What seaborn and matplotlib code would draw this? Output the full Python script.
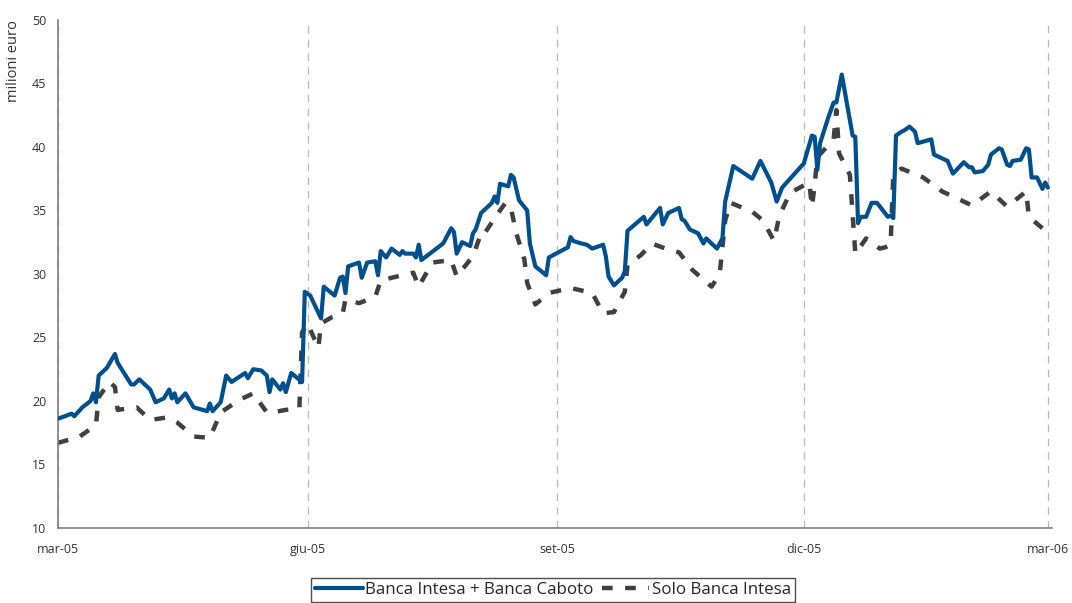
import pandas as pd
import numpy as np
import seaborn as sns
import matplotlib.pyplot as plt
import matplotlib.dates as mdates
from matplotlib.ticker import FuncFormatter

# --- data (days since 1 Mar 2005, milioni euro) ---
start_date = '2005-03-01'

days_caboto = [0, 5, 6, 9, 12, 13, 14, 15, 18, 21, 22, 27, 28, 30, 34, 36, 39, 41, 42, 43,
               44, 47, 50, 55, 56, 57, 60, 62, 64, 69, 70, 72, 75, 77, 78, 79, 82, 83, 84, 86,
               90, 91, 93, 95, 97, 98, 102, 104, 105, 106, 107, 111, 112, 114, 117, 118, 119, 121, 123, 126,
               127, 128, 131, 132, 133, 134, 142, 145, 146, 147, 149, 152, 153, 154, 156, 159, 160, 161, 162, 163,
               166, 167, 168, 170, 173, 174, 176, 180, 181, 188, 189, 190, 193, 195, 197, 201, 202, 203, 205, 208,
               209, 210, 216, 217, 222, 223, 225, 229, 230, 231, 233, 236, 238, 239, 243, 245, 246, 249, 256, 259,
               263, 265, 267, 275, 278, 279, 280, 281, 284, 286, 287, 289, 293, 294, 295, 296, 298, 300, 302, 306,
               307, 308, 309, 311, 312, 314, 316, 317, 322, 323, 328, 330, 334, 336, 337, 338, 341, 343, 344, 347,
               348, 350, 351, 352, 355, 357, 358, 359, 361, 363, 364, 365]
vals_caboto = [18.6, 19.0, 18.8, 19.5, 20.0, 20.6, 19.9, 22.0, 22.6, 23.7, 23.0, 21.3, 21.3, 21.7, 20.9, 19.9, 20.2, 20.9, 20.2, 20.6,
               19.9, 20.6, 19.5, 19.2, 19.8, 19.2, 19.9, 22.0, 21.5, 22.2, 21.8, 22.5, 22.4, 22.0, 20.7, 21.7, 20.9, 21.4, 20.7, 22.2,
               21.5, 28.6, 28.3, 27.4, 26.5, 29.0, 28.3, 29.7, 29.8, 28.5, 30.6, 30.9, 29.7, 30.9, 31.0, 29.9, 31.8, 31.3, 32.0, 31.5,
               31.8, 31.6, 31.6, 31.3, 32.3, 31.1, 32.4, 33.6, 33.3, 31.6, 32.5, 32.2, 33.2, 33.5, 34.8, 35.4, 35.6, 36.1, 35.6, 37.1,
               36.9, 37.8, 37.6, 35.8, 35.0, 32.4, 30.6, 29.9, 31.3, 32.1, 32.9, 32.6, 32.4, 32.3, 32.0, 32.3, 31.4, 29.8, 29.1, 29.7,
               30.2, 33.4, 34.5, 33.9, 35.2, 33.9, 34.8, 35.2, 34.3, 34.2, 33.5, 33.2, 32.4, 32.8, 32.0, 32.8, 35.7, 38.5, 37.5, 38.9,
               37.2, 35.7, 36.8, 38.7, 40.9, 40.8, 38.2, 40.3, 42.3, 43.5, 43.5, 45.7, 40.9, 40.8, 34.0, 34.5, 34.5, 35.6, 35.6, 34.5,
               34.6, 34.4, 40.9, 41.2, 41.3, 41.6, 41.2, 40.3, 40.6, 39.4, 38.9, 37.9, 38.8, 38.4, 38.4, 38.0, 38.1, 38.6, 39.4, 39.9,
               39.8, 38.6, 38.5, 38.9, 39.0, 39.9, 39.8, 37.6, 37.6, 36.7, 37.2, 36.8]

days_intesa = [0, 8, 14, 15, 19, 21, 22, 29, 34, 40, 44, 50, 56, 60, 67, 72, 77, 79, 84, 89,
               90, 92, 96, 97, 101, 105, 106, 111, 117, 119, 125, 131, 133, 138, 145, 147, 153, 156, 157, 161,
               165, 167, 169, 172, 173, 176, 181, 189, 197, 201, 205, 209, 210, 215, 219, 224, 229, 234, 241, 244,
               245, 246, 248, 256, 260, 264, 266, 270, 277, 278, 279, 280, 286, 287, 288, 292, 294, 298, 303, 305,
               307, 308, 311, 319, 326, 330, 337, 344, 350, 357, 358, 363, 365]
vals_intesa = [16.7, 17.2, 18.1, 20.3, 21.5, 21.1, 19.3, 19.5, 18.5, 18.7, 18.3, 17.2, 17.1, 19.1, 20.1, 20.6, 19.1, 19.1, 19.3, 19.4,
               25.4, 26.1, 24.2, 26.1, 26.6, 26.9, 28.0, 27.7, 28.2, 29.5, 29.8, 30.1, 29.0, 30.9, 31.1, 29.8, 31.4, 33.2, 33.1, 34.4,
               35.6, 35.2, 33.2, 31.1, 29.3, 27.6, 28.5, 28.9, 28.5, 26.9, 27.0, 28.6, 30.7, 31.5, 32.4, 32.0, 31.7, 30.3, 29.0, 30.0,
               32.1, 34.2, 35.6, 34.9, 34.2, 32.6, 34.6, 36.4, 37.2, 35.3, 37.0, 39.2, 40.6, 42.9, 39.5, 37.8, 31.6, 32.8, 32.0, 32.1,
               32.3, 37.8, 38.3, 37.6, 36.5, 36.1, 35.4, 36.5, 35.3, 36.5, 34.5, 33.6, 33.3]

label_caboto = 'Banca Intesa + Banca Caboto'
label_intesa = 'Solo Banca Intesa'
month_names = {3: 'mar', 6: 'giu', 9: 'set', 12: 'dic'}

t0 = pd.Timestamp(start_date)
df_caboto = pd.DataFrame({'data': t0 + pd.to_timedelta(days_caboto, unit='D'), 'valore': vals_caboto})
df_intesa = pd.DataFrame({'data': t0 + pd.to_timedelta(days_intesa, unit='D'), 'valore': vals_intesa})

# --- plot ---
sns.set_style("white")
plt.rcParams['font.family'] = ['Open Sans', 'DejaVu Sans']

fig = plt.figure(figsize=(10.72, 6.03), dpi=100)
ax = fig.add_axes([0.0541, 0.1244, 0.9272, 0.8425])

sns.lineplot(data=df_intesa, x='data', y='valore', ax=ax, color='#404040', linewidth=3.2,
             linestyle=(0, (2.4, 2.8)), estimator=None, label=label_intesa, zorder=2)
sns.lineplot(data=df_caboto, x='data', y='valore', ax=ax, color='#004f8f', linewidth=3.0,
             estimator=None, label=label_caboto, zorder=3)

# a little room past mar-06 so its gridline is not clipped
ax.set_xlim(pd.Timestamp('2005-03-01'), pd.Timestamp('2006-03-02 12:00'))
ax.set_ylim(10, 50)
ax.set_yticks(np.arange(10, 51, 5))
ax.xaxis.set_major_locator(mdates.MonthLocator(bymonth=[3, 6, 9, 12]))
ax.xaxis.set_major_formatter(FuncFormatter(
    lambda v, pos: f"{month_names[mdates.num2date(v).month]}-{mdates.num2date(v).strftime('%y')}"))

ax.grid(axis='x', color='#b8b8b8', linestyle=(0, (6, 5)), linewidth=0.9)
ax.grid(axis='y', visible=False)
for side in ['top', 'right']:
    ax.spines[side].set_visible(False)
for side in ['left', 'bottom']:
    ax.spines[side].set_color('#7f7f7f')
    ax.spines[side].set_linewidth(1.2)
ax.tick_params(axis='both', direction='inout', length=5, width=1, color='#7f7f7f',
               labelsize=9, labelcolor='#333333', pad=6)
ax.tick_params(axis='x', pad=8)

ax.set_xlabel('')
ax.set_ylabel('milioni euro', fontsize=10.5, color='#333333', loc='top', labelpad=8)

handles, labels = ax.get_legend_handles_labels()
ax.get_legend().remove()
order = [labels.index(label_caboto), labels.index(label_intesa)]
leg = fig.legend([handles[i] for i in order], [labels[i] for i in order],
                 loc='upper center', bbox_to_anchor=(0.516, 0.042), ncol=2,
                 fontsize=12.2, frameon=True, fancybox=False, handlelength=2.8,
                 handletextpad=0.15, columnspacing=0.5, borderpad=0.25, borderaxespad=0)
leg.get_frame().set_edgecolor('#222222')
leg.get_frame().set_linewidth(1.0)

plt.savefig('out.png', dpi=100)
